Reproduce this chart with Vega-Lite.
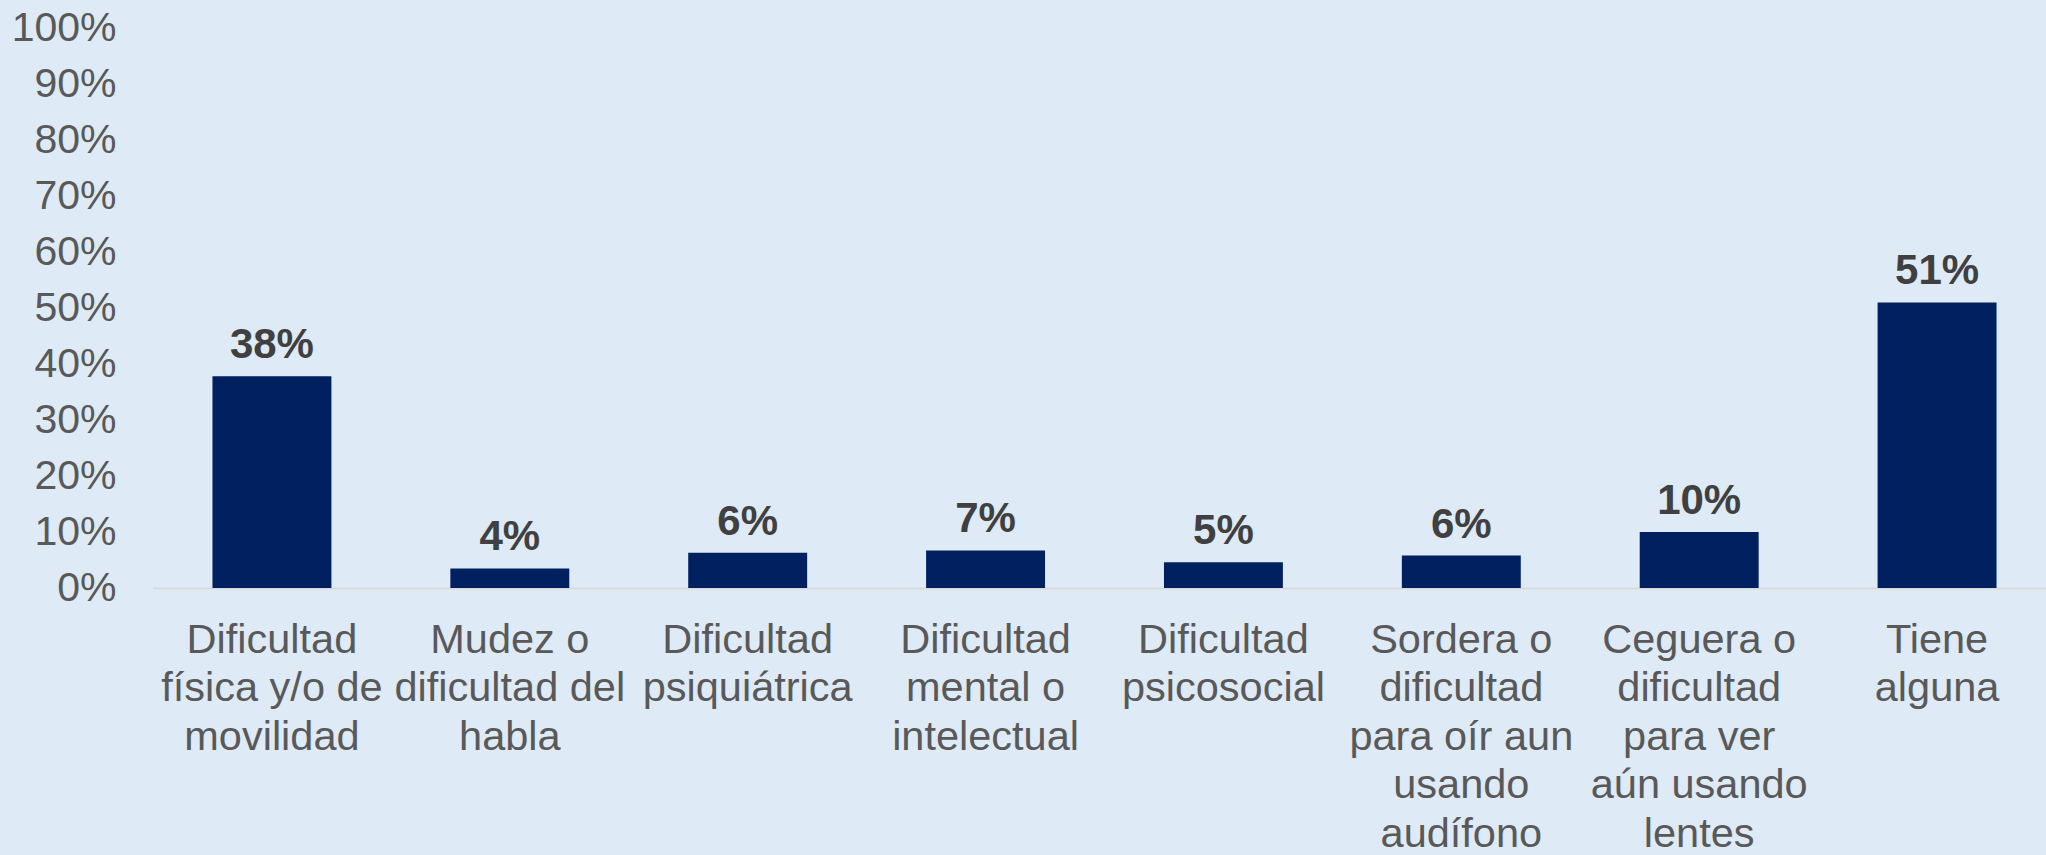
{
  "$schema": "https://vega.github.io/schema/vega-lite/v6.json",
  "autosize": {"type": "none"},
  "padding": {"left": 153, "top": 28, "right": 0, "bottom": 267},
  "width": 1903,
  "height": 560,
  "background": "#DEEAF6",
  "config": {
    "view": {"stroke": null},
    "font": "Liberation Sans"
  },
  "data": {
    "values": [
      {"categoria": "Dificultad\nfísica y/o de\nmovilidad", "valor": 0.378},
      {"categoria": "Mudez o\ndificultad del\nhabla", "valor": 0.035},
      {"categoria": "Dificultad\npsiquiátrica", "valor": 0.063},
      {"categoria": "Dificultad\nmental o\nintelectual", "valor": 0.067},
      {"categoria": "Dificultad\npsicosocial", "valor": 0.046},
      {"categoria": "Sordera o\ndificultad\npara oír aun\nusando\naudífono", "valor": 0.058},
      {"categoria": "Ceguera o\ndificultad\npara ver\naún usando\nlentes", "valor": 0.10},
      {"categoria": "Tiene\nalguna", "valor": 0.51}
    ]
  },
  "encoding": {
    "x": {
      "field": "categoria",
      "type": "nominal",
      "sort": null,
      "scale": {"paddingInner": 0.5, "paddingOuter": 0.25},
      "axis": {
        "title": null,
        "labelAngle": 0,
        "labelExpr": "split(datum.label, '\\n')",
        "labelFontSize": 41.5,
        "labelLineHeight": 48.5,
        "labelColor": "#595959",
        "labelPadding": 31,
        "labelBaseline": "top",
        "labelLimit": 400,
        "ticks": false,
        "domainColor": "#D9D9D9",
        "domainWidth": 2
      }
    },
    "y": {
      "field": "valor",
      "type": "quantitative",
      "scale": {"domain": [0, 1]},
      "axis": {
        "title": null,
        "values": [0, 0.1, 0.2, 0.3, 0.4, 0.5, 0.6, 0.7, 0.8, 0.9, 1.0],
        "format": ".0%",
        "grid": false,
        "domain": false,
        "ticks": false,
        "labelFontSize": 41,
        "labelColor": "#595959",
        "labelPadding": 37
      }
    }
  },
  "layer": [
    {"mark": {"type": "bar", "color": "#002060"}},
    {
      "mark": {"type": "text", "fontSize": 42, "fontWeight": "bold", "color": "#404040", "baseline": "alphabetic", "dy": -18},
      "encoding": {"text": {"field": "valor", "type": "quantitative", "format": ".0%"}}
    }
  ]
}
